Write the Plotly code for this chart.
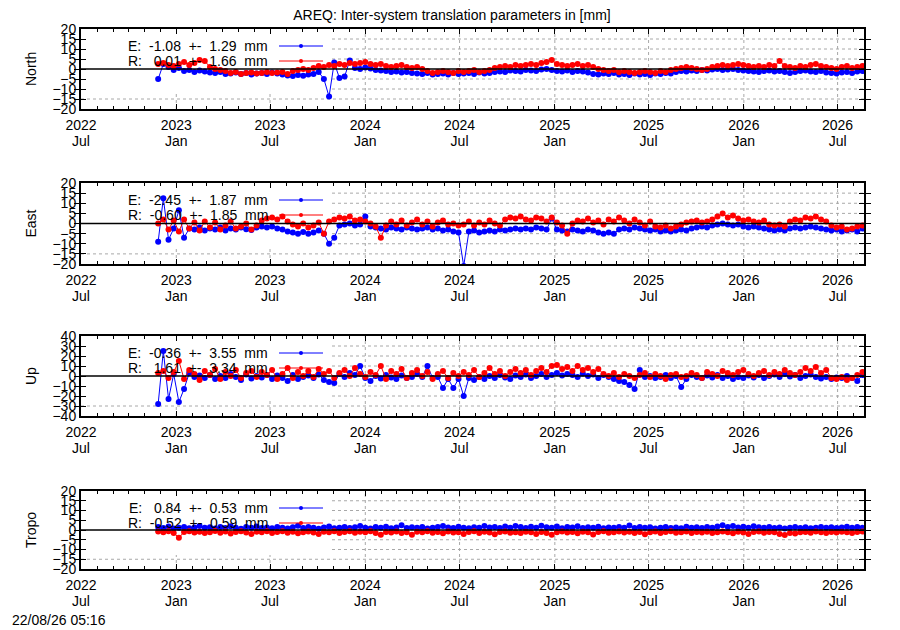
import pandas as pd
import plotly.graph_objects as go
from plotly.subplots import make_subplots

# one value every 10 days, first epoch below
start_date = '2022-11-27'
range_start = '2022-07-01'
range_end = '2026-08-21'

north_e = [-5.0, 2.5, 1.0, -0.5, 0.5, -1.0, -0.5, -1.5, -0.8, -1.2,
           -1.8, -2.0, -1.5, -2.5, -2.2, -1.8, -2.5, -2.0, -2.8, -2.2,
           -2.0, -2.5, -1.8, -2.2, -2.8, -3.2, -3.5, -3.0, -3.4, -2.8,
           -2.5, -1.5, -5.0, -13.8, 3.2, -4.5, -3.8, 4.2, 0.5, 0.0,
           0.8, 0.2, -0.5, -0.8, -1.0, -1.5, -1.2, -1.8, -1.5, -2.0,
           -2.2, -2.5, -2.0, -2.8, -2.5, -2.2, -2.8, -2.0, -2.5, -2.2,
           -2.0, -2.5, -1.8, -2.2, -2.0, -1.5, -1.2, -1.5, -0.8, -1.0,
           -1.2, -0.5, -0.8, -1.0, -0.2, 0.0, -0.5, -1.0, -1.2, -0.8,
           -1.5, -1.0, -1.2, -1.8, -2.5, -2.8, -2.2, -2.5, -2.0, -2.8,
           -2.5, -3.0, -2.2, -2.8, -2.5, -3.0, -2.2, -2.5, -2.0, -2.2,
           -1.5, -1.0, -1.2, -0.8, -1.0, -0.5, -0.8, -0.2, 0.0, -0.5,
           -0.2, 0.0, -0.5, -0.8, -1.0, -1.2, -1.5, -1.0, -0.8, -1.2,
           -1.0, -1.5, -2.0, -1.5, -1.0, -0.8, -1.2, -1.5, -1.0, -1.8,
           -2.0, -2.2, -1.8, -1.5, -2.0, -1.2, -1.0]
north_r = [2.5, 3.0, 2.0, 1.5, 2.5, 3.5, 2.0, 3.0, 4.5, 4.0,
           1.0, 0.0, -0.5, -1.0, -2.0, -1.5, -2.5, -2.0, -1.8, -2.2,
           -2.0, -1.5, -2.0, -1.8, -1.5, -2.5, -1.0, -0.5, 0.0, -0.5,
           0.5, 1.5, 1.0, 2.0, 1.5, 2.5, 2.0, 3.0, 2.5, 3.0,
           3.5, 2.5, 2.0, 2.5, 1.5, 1.0, 1.5, 2.0, 1.0, 0.5,
           1.0, 0.0, -1.0, -2.0, -1.5, -1.0, -1.5, -2.0, -1.0, -1.5,
           -1.0, -0.5, -1.5, -1.0, -0.5, 0.5, 1.0, 1.5, 1.0, 2.0,
           1.5, 2.0, 2.5, 2.0, 3.0, 3.5, 4.5, 2.5, 2.0, 1.5,
           2.0, 2.5, 1.5, 2.0, 1.0, 0.0, -0.5, -1.0, -0.5, -1.5,
           -1.0, -1.5, -2.0, -1.5, -1.0, -1.5, -2.0, -1.0, -1.5, -0.5,
           0.0, 0.5, 1.0, 0.5, 0.0, -0.5, 0.0, 1.0, 1.5, 2.0,
           1.5, 2.0, 2.5, 2.0, 1.5, 1.0, 1.5, 1.0, 2.0, 1.5,
           4.0, 1.5, 1.0, 0.5, 1.5, 1.0, 2.0, 2.5, 1.5, 1.0,
           0.5, 0.0, 1.0, 1.5, 0.5, 1.0, 1.5]

east_e = [-9.0, 12.5, -8.0, -2.5, 6.5, -7.0, -2.5, -3.0, -2.0, -3.5,
          -2.5, -3.0, -2.0, -3.5, -2.5, -3.0, -2.0, -2.8, -3.2, -2.0,
          -1.5, -2.0, -1.5, -2.5, -3.0, -4.0, -4.5, -5.0, -4.2, -5.0,
          -4.5, -3.5, -5.0, -10.0, -7.0, -1.0, -0.5, 0.0, -1.0, -0.5,
          3.5, -1.5, -2.0, -2.5, -3.0, -2.0, -2.5, -3.0, -2.0, -2.5,
          -3.0, -2.5, -2.0, -3.0, -2.5, -3.5, -3.0, -4.0, -4.5, -21.0,
          -4.0, -3.5, -4.5, -4.0, -3.5, -4.0, -3.0, -3.5, -3.0, -2.5,
          -3.0, -2.5, -3.0, -2.0, -2.5, -3.0, 2.5, -3.0, -3.5, -4.0,
          -3.0, -3.5, -4.0, -3.0, -3.5, -4.5, -5.0, -4.5, -5.0, -3.0,
          -2.5, -3.0, -2.0, -2.5, -3.0, -3.5, -3.0, -4.0, -3.5, -4.0,
          -3.5, -3.0, -3.5, -2.5, -2.0, -1.5, -2.0, -1.0, -0.5, 0.0,
          -0.5, -1.0, -0.5, -1.5, -2.0, -1.5, -2.0, -2.5, -3.0, -3.5,
          -3.0, -3.5, -2.5, -2.0, -2.5, -2.0, -1.5, -2.0, -2.5, -3.0,
          -3.5, -3.0, -4.0, -3.5, -3.0, -4.0, -2.5]
east_r = [0.0, 2.0, -3.0, 1.5, -4.0, 2.0, -2.5, 0.5, -3.5, 1.0,
          -2.0, 0.5, -3.0, -1.0, 1.0, -2.5, -1.5, 0.0, -3.0, -1.0,
          1.5, 2.5, 3.0, 2.0, 3.5, 1.0, -0.5, -1.5, 0.0, -2.0,
          -1.0, 0.5, -5.0, 1.0, 2.0, 3.0, 2.5, 3.5, 1.5, 2.0,
          1.0, 0.0, -1.5, -7.0, -1.0, 1.0, -0.5, 1.5, -1.0, 0.5,
          2.0, -0.5, 1.0, -1.5, 0.5, 1.5, -0.5, 0.0, -1.0, -0.5,
          1.0, -1.0, 0.5, -0.5, 1.5, 0.0, -1.0, 2.0, 3.0, 2.5,
          3.5, 2.0, 1.5, 3.0, 2.5, 1.0, 3.0, 0.5, -1.0, -5.0,
          0.0, 1.5, 1.0, 2.5, 0.5, 1.5, -0.5, 2.0, 1.0, 3.0,
          1.5, 0.0, 2.0, 0.5, -1.0, 1.0, -1.5, -2.0, -1.0, -2.5,
          -1.5, -0.5, 0.5, 1.0, 1.5, 0.5, 1.0, 2.0, 3.5, 5.0,
          3.0, 4.0, 2.5, 1.5, 2.0, 1.0, 0.5, 1.5, -0.5, -1.0,
          -0.5, -1.5, 1.0, 2.0, 1.5, 3.0, 2.5, 3.5, 2.0, 1.0,
          -1.0, -2.0, -1.5, -3.0, -2.5, -1.5, -1.0]

up_e = [-28.0, 25.0, -23.0, 2.0, -26.0, -13.0, 3.0, -1.0, 0.5, -2.0,
        1.0, -3.0, 0.0, -2.0, 2.0, -1.0, -4.0, 1.5, -2.5, 0.0,
        -1.5, 1.0, -3.0, 0.5, -2.0, -5.0, 1.0, -3.0, -1.0, 0.5,
        -2.0, 1.5, -4.0, -6.0, -7.0, 2.0, -1.0, 3.0, 1.0, 10.0,
        -2.0, -5.0, 0.0, -2.5, 1.0, -1.5, -3.0, 0.5, -2.0, -1.0,
        2.0, -1.0, 10.0, -2.0, -1.0, -12.0, -3.0, -12.0, -3.0, -20.0,
        -2.0, -4.0, -1.0, -3.0, 0.0, -2.0, 1.0, -1.5, -3.0, 0.5,
        -1.0, 1.5, -2.0, 0.0, 2.0, -1.0, 1.0, 3.0, 0.5, 2.0,
        1.0, -1.0, 2.5, 0.0, 1.5, -2.0, 1.0, -1.0, -3.0, -5.0,
        -6.0, -9.0, -13.0, 6.0, -1.0, 0.0, -2.0, -1.0, 1.0, -2.0,
        0.0, -11.0, -3.0, 1.0, -1.0, -2.0, 0.5, -1.5, 1.0, -2.0,
        0.0, -3.0, -1.0, -2.0, 0.5, -1.5, 1.0, -2.0, 0.0, 1.5,
        -1.0, 2.0, -0.5, 1.0, -2.0, 0.0, 1.5, -1.0, -2.5, -1.0,
        -3.0, -1.5, -2.0, 0.0, -2.0, -5.0, 1.0]
up_r = [3.0, 5.0, -2.0, 4.0, 15.0, -3.0, 6.0, 2.0, -4.0, 5.0,
        1.0, 7.0, -3.0, 4.0, 0.0, 6.0, -2.0, 3.0, 5.0, -1.0,
        4.0, 1.0, 6.0, -3.0, 2.0, 8.0, -2.0, 4.0, 0.0, 5.0,
        -1.0, 7.0, 2.0, 5.0, -2.0, 3.0, 6.0, 0.0, 8.0, 2.0,
        -1.0, 4.0, 1.0, 10.0, -3.0, 5.0, 2.0, 7.0, -2.0, 3.0,
        6.0, 0.0, 4.0, -3.0, 2.0, 5.0, -2.0, 3.0, 0.0, 4.0,
        1.0, 6.0, -1.0, 3.0, 8.0, 2.0, 5.0, 0.0, 4.0, 7.0,
        3.0, 6.0, 1.0, 5.0, 8.0, 4.0, 10.0, 11.0, 7.0, 9.0,
        5.0, 10.0, 6.0, 8.0, 4.0, 7.0, 2.0, 0.0, 3.0, -1.0,
        2.0, 0.0, -2.0, 1.0, 3.0, -1.0, 2.0, 0.0, -3.0, 1.0,
        2.0, -1.0, 0.0, 3.0, 1.0, -2.0, 4.0, 2.0, 0.0, 5.0,
        3.0, 1.0, 4.0, 6.0, 2.0, 0.0, 3.0, 5.0, 1.0, 4.0,
        2.0, 6.0, 3.0, 1.0, 4.0, 8.0, 5.0, 9.0, 3.0, 6.0,
        -2.0, -3.0, -1.0, -4.0, -2.0, 1.0, 4.0]

tropo_e = [1.5, 1.0, 1.8, 0.8, 1.2, 1.5, 0.9, 1.3, 2.0, 1.1,
           1.4, 0.8, 1.6, 1.0, 1.9, 1.2, 0.7, 1.5, 1.1, 1.8,
           1.0, 1.3, 0.9, 1.6, 1.2, 0.8, 1.4, 2.2, 1.0, 1.5,
           1.1, 0.7, 1.3, 1.8, 0.9, 1.2, 1.6, 1.0, 1.4, 2.0,
           1.2, 0.8, 1.5, 1.1, 1.7, 0.9, 1.3, 2.4, 1.0, 1.4,
           1.1, 1.6, 0.8, 1.2, 1.5, 2.0, 1.3, 1.0, 1.7, 1.2,
           0.9, 1.4, 1.1, 2.0, 1.3, 1.6, 1.0, 1.8, 1.2, 2.1,
           1.5, 1.0, 1.7, 1.2, 2.2, 1.4, 1.1, 1.8, 0.9, 1.5,
           1.3, 1.9, 1.0, 1.4, 1.2, 1.7, 0.9, 1.3, 1.1, 1.6,
           1.2, 2.3, 1.0, 1.5, 1.1, 1.4, 0.8, 1.2, 1.6, 1.0,
           1.3, 0.9, 1.7, 1.1, 1.4, 1.0, 1.6, 1.2, 1.8, 2.4,
           1.5, 2.0, 1.3, 1.7, 1.1, 1.9, 1.4, 1.2, 1.6, 1.0,
           1.3, 0.8, 1.1, 1.5, 1.0, 1.4, 0.9, 1.2, 1.6, 1.1,
           1.4, 1.0, 1.3, 1.7, 1.2, 1.5, 1.1]
tropo_r = [-0.8, -1.2, -0.6, -1.5, -4.0, -1.0, -0.7, -1.3, -0.9, -1.6,
           -1.1, -0.5, -1.4, -0.8, -1.8, -1.0, -0.6, -1.3, -2.0, -0.9,
           -1.2, -0.7, -1.5, -1.0, -0.6, -1.4, -0.9, -1.7, -1.1, -0.8,
           -1.3, -2.0, -0.9, -1.2, -0.7, -1.5, -1.0, -0.6, -1.4, -0.9,
           -1.1, -0.7, -1.6, -2.5, -1.0, -1.3, -0.8, -1.5, -1.1, -2.4,
           -0.9, -1.2, -0.6, -1.4, -1.0, -1.7, -0.8, -1.3, -1.1, -2.0,
           -1.0, -0.7, -1.5, -0.9, -1.3, -2.2, -1.0, -0.8, -1.4, -1.1,
           -1.6, -0.9, -1.2, -2.0, -1.0, -1.5, -2.4, -1.1, -0.8, -1.3,
           -1.0, -1.7, -0.9, -1.2, -2.3, -1.0, -0.7, -1.4, -1.1, -0.8,
           -1.3, -0.9, -1.6, -1.0, -2.2, -1.2, -0.8, -1.5, -1.0, -0.7,
           -1.4, -1.1, -0.8, -1.6, -1.0, -1.3, -0.9, -1.5, -1.2, -0.8,
           -1.1, -1.7, -0.9, -1.3, -2.1, -1.0, -0.8, -1.4, -1.0, -1.2,
           -2.0, -2.6, -1.5, -1.8, -1.2, -1.0, -1.4, -0.8, -1.1, -1.5,
           -1.0, -1.3, -0.9, -1.2, -1.6, -1.0, -0.8]

panel_names = ['North', 'East', 'Up', 'Tropo']
panel_limits = [20, 20, 40, 20]
panel_steps = [5, 5, 10, 5]
e_labels = ['E:  -1.08  +-  1.29  mm', 'E:  -2.45  +-  1.87  mm',
            'E:  -0.36  +-  3.55  mm', 'E:   0.84  +-  0.53  mm']
r_labels = ['R:   0.01  +-  1.66  mm', 'R:  -0.60  +-  1.85  mm',
            'R:   1.61  +-  3.34  mm', 'R:  -0.52  +-  0.59  mm']
e_series = [north_e, east_e, up_e, tropo_e]
r_series = [north_r, east_r, up_r, tropo_r]

# the page puts the figure 8px in from the top-left corner
OFF = 8
W, H = 900 - OFF, 630 - OFF
# plot boxes in window pixels (top, bottom), left/right shared
x_left, x_right = 81, 864
boxes = [(29, 109), (183, 264), (336, 416), (491, 569)]
key_right = 332      # right edge of the opaque key box
key_height = 64

FONT = 'Liberation Sans, Arial, sans-serif'
BLUE = '#0000ff'
RED = '#ff0000'
GRID = dict(color='#a8a8a8', width=1, dash='dot')


def px(v):
    return (v - OFF) / W


def py(v):
    return 1 - (v - OFF) / H


def nb(s):
    return s.replace(' ', '\u00a0')


fig = make_subplots(rows=4, cols=1)

t0 = pd.Timestamp(range_start)
t1 = pd.Timestamp(range_end)
grid_dates = pd.date_range(range_start, range_end, freq='6MS')[1:]


def add_panel(fig, row, name, lim, step, e_vals, r_vals, e_lab, r_lab):
    xs = 'x' if row == 1 else f'x{row}'
    ys = 'y' if row == 1 else f'y{row}'
    top, bottom = boxes[row - 1]
    ph = bottom - top
    pw = x_right - x_left
    key_x = (key_right - x_left) / pw
    key_y = 1 - key_height / ph

    e_dates = pd.date_range(start_date, periods=len(e_vals), freq='10D')
    r_dates = pd.date_range(start_date, periods=len(r_vals), freq='10D')
    fig.add_trace(go.Scatter(x=e_dates, y=e_vals, mode='lines+markers',
                             line=dict(color=BLUE, width=1),
                             marker=dict(color=BLUE, size=6),
                             showlegend=False), row=row, col=1)
    fig.add_trace(go.Scatter(x=r_dates, y=r_vals, mode='lines+markers',
                             line=dict(color=RED, width=1),
                             marker=dict(color=RED, size=6),
                             showlegend=False), row=row, col=1)

    axis_style = dict(ticks='inside', ticklen=5, tickcolor='black',
                      mirror='allticks', showline=True, linecolor='black', linewidth=2,
                      showgrid=False, zeroline=False, automargin=False,
                      tickfont=dict(size=14, color='black'))
    fig.update_xaxes(domain=[px(x_left), px(x_right)],
                     range=[range_start, range_end],
                     tick0=range_start, dtick='M6', tickformat='%Y',
                     ticklabelstandoff=2,
                     minor=dict(ticks='inside', ticklen=3, dtick='M1', tick0=range_start,
                                tickcolor='black', showgrid=False),
                     row=row, col=1, **axis_style)
    fig.update_yaxes(domain=[py(bottom), py(top)],
                     range=[-lim, lim], dtick=step, tick0=0,
                     row=row, col=1, **axis_style)

    # month line of the tick labels on a bare overlay axis
    n = row + 4
    fig.update_layout({f'xaxis{n}': dict(type='date', overlaying=xs, anchor=ys,
                                         side='bottom',
                                         range=[range_start, range_end],
                                         tick0=range_start, dtick='M6', tickformat='%b',
                                         ticks='', showline=False, showgrid=False,
                                         zeroline=False, ticklabelstandoff=22,
                                         automargin=False,
                                         tickfont=dict(size=14, color='black'))})
    fig.add_trace(go.Scatter(x=[], y=[], xaxis=f'x{n}', yaxis=ys,
                             showlegend=False, hoverinfo='skip'))

    # dotted grid, left out behind the key box
    for v in range(-lim + step, lim, step):
        if v == 0:
            continue
        frac = (v + lim) / (2 * lim)
        x0 = key_x if frac > key_y else 0
        fig.add_shape(type='line', xref=f'{xs} domain', yref=ys, x0=x0, x1=1, y0=v, y1=v,
                      line=GRID, layer='below')
    for d in grid_dates:
        frac = (d - t0) / (t1 - t0)
        y1 = key_y if frac < key_x else 1
        fig.add_shape(type='line', xref=xs, yref=f'{ys} domain', x0=d, x1=d, y0=0, y1=y1,
                      line=GRID, layer='below')

    # zero line on top of the data
    fig.add_shape(type='line', xref=f'{xs} domain', yref=ys, x0=0, x1=1, y0=0, y1=0,
                  line=dict(color='black', width=1.5), layer='above')

    # key entries: label then a line sample on the right
    for k, (lab, col) in enumerate([(e_lab, BLUE), (r_lab, RED)]):
        yy = 1 - (17 + 15 * k) / ph
        fig.add_annotation(xref=f'{xs} domain', yref=f'{ys} domain',
                           x=(270 - x_left) / pw, y=yy, text=nb(lab),
                           xanchor='right', yanchor='middle', showarrow=False,
                           font=dict(size=14, color='black', family=FONT))
        fig.add_shape(type='line', xref=f'{xs} domain', yref=f'{ys} domain',
                      x0=(279 - x_left) / pw, x1=(323 - x_left) / pw, y0=yy, y1=yy,
                      line=dict(color=col, width=1), layer='above')
        fig.add_shape(type='circle', xref=f'{xs} domain', yref=f'{ys} domain',
                      x0=(299 - x_left) / pw, x1=(303 - x_left) / pw,
                      y0=yy - 2 / ph, y1=yy + 2 / ph,
                      fillcolor=col, line=dict(color=col, width=0), layer='above')

    # axis title
    fig.add_annotation(xref='paper', yref=f'{ys} domain', x=px(31), y=0.5,
                       text=name, textangle=-90, showarrow=False,
                       xanchor='center', yanchor='middle',
                       font=dict(size=14, color='black', family=FONT))


for i in range(4):
    add_panel(fig, i + 1, panel_names[i], panel_limits[i], panel_steps[i],
              e_series[i], r_series[i], e_labels[i], r_labels[i])

fig.add_annotation(xref='paper', yref='paper', x=px(10), y=0,
                   text='22/08/26 05:16', showarrow=False,
                   xanchor='left', yanchor='bottom',
                   font=dict(size=14, color='black', family=FONT))

fig.update_layout(width=W, height=H, margin=dict(l=0, r=0, t=0, b=0),
                  title=dict(text='AREQ: Inter-system translation parameters in [mm]',
                             x=px(452), y=1 - (15 - OFF) / H,
                             xref='paper', yref='container',
                             xanchor='center', yanchor='middle',
                             font=dict(size=14, color='black', family=FONT)),
                  paper_bgcolor='white', plot_bgcolor='white',
                  font=dict(family=FONT, size=14, color='black'),
                  showlegend=False)

fig.write_html("out.html")
